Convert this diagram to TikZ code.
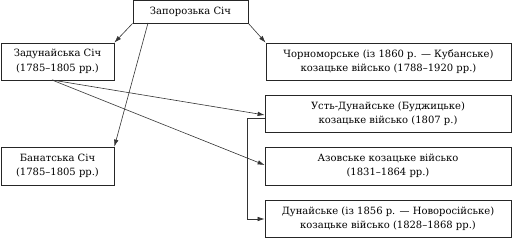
\documentclass[tikz,border=0pt]{standalone}
\usepackage{fontspec}
\setmainfont{DejaVu Serif}
\usetikzlibrary{arrows.meta}
\begin{document}
\begin{tikzpicture}[x=1pt,y=-1pt,
  box/.style={draw=black!85, line width=0.8pt, rectangle, inner sep=0pt, align=center,
    font=\fontsize{10}{14.5}\selectfont},
  conn/.style={draw=black!80, line width=0.6pt, -{Latex[length=7pt,width=4.5pt]}}]
\useasboundingbox (0,0) rectangle (515,243);
\node[box, minimum width=115pt, minimum height=23pt] (zap) at (190.5,11.5) {Запорозька Січ};
\node[box, minimum width=113pt, minimum height=37pt] (zad) at (57.5,61.5) {Задунайська Січ\\(1785–1805 рр.)};
\node[box, minimum width=113pt, minimum height=38pt] (ban) at (57.5,166) {Банатська Січ\\(1785–1805 рр.)};
\node[box, minimum width=245pt, minimum height=37pt] (chor) at (388.5,61.5) {Чорноморське (із 1860 р. — Кубанське)\\козацьке військо (1788–1920 рр.)};
\node[box, minimum width=246pt, minimum height=37pt] (ust) at (388,113.5) {Усть-Дунайське (Буджицьке)\\козацьке військо (1807 р.)};
\node[box, minimum width=246pt, minimum height=38pt] (azov) at (388,166) {Азовське козацьке військо\\(1831–1864 рр.)};
\node[box, minimum width=246pt, minimum height=37pt] (dun) at (388,218.5) {Дунайське (із 1856 р. — Новоросійське)\\козацьке військо (1828–1868 рр.)};
\coordinate (zapb) at (148,23);
\coordinate (zadb) at (52,80);
\coordinate (ustl) at (265,118);
\coordinate (corner1) at (247,118);
\coordinate (corner2) at (247,219);
\draw[conn] (zap.south west) -- (zad.north east);
\draw[conn] (zap.south east) -- (chor.north west);
\draw[conn] (zapb) -- (ban.north east);
\draw[conn] (zadb) -- (ust.west |- 0,115);
\draw[conn] (zadb) -- (azov.west |- 0,165);
\draw[conn] (ustl) -- (corner1) -- (corner2) -- (dun.west |- 0,219);
\end{tikzpicture}
\end{document}
